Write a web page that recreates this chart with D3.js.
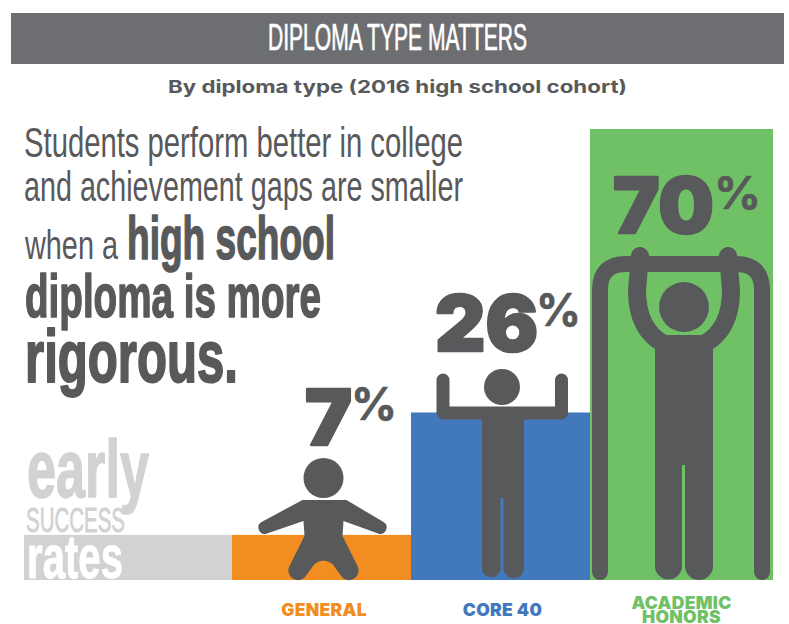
<!DOCTYPE html>
<html>
<head>
<meta charset="utf-8">
<title>Diploma type matters</title>
<script src="https://cdn.jsdelivr.net/npm/d3@7/dist/d3.min.js"></script>
<style>
  html, body { margin: 0; padding: 0; background: #fff; }
  svg { display: block; }
</style>
</head>
<body>
<svg id="chart" width="789" height="624"></svg>
<script>
// Early success rates by diploma type
const categories = ["General", "Core 40", "Academic Honors"];
const rates = [7, 26, 70];
const axisLabels = [["GENERAL"], ["CORE 40"], ["ACADEMIC", "HONORS"]];
const barColors = ["#f28d22", "#4278bc", "#70c166"];

const INK = "#58595b";
const PALE = "#d1d2d4";
const NARROW = "'Liberation Sans Narrow', 'Liberation Sans', sans-serif";
const HEAVY = "Inter, 'DejaVu Sans', sans-serif";

const svg = d3.select("#chart");

// Bars are slightly uneven in width, so the edges come from ordinal scales
const xLeft = d3.scaleOrdinal(categories, [232, 411, 590]);
const xRight = d3.scaleOrdinal(categories, [411, 590, 773]);
const xMid = d3.scaleOrdinal(categories, [323.5, 502, 681]);
const y = d3.scaleLinear().domain([0, 70]).range([580, 129]);

// Text set to a fixed measure: the face is stretched or squeezed to the given width
function fitted(parent, o) {
  return parent.append("text")
    .attr("x", o.x).attr("y", o.y)
    .attr("textLength", o.w).attr("lengthAdjust", "spacingAndGlyphs")
    .attr("font-family", o.family || NARROW)
    .attr("font-size", o.size)
    .attr("font-weight", o.weight || 400)
    .attr("fill", o.fill || INK)
    .attr("stroke", o.stroke ? (o.fill || INK) : null)
    .attr("stroke-width", o.stroke || null)
    .attr("stroke-linejoin", "round")
    .text(o.text);
}

// Header band
svg.append("rect").attr("x", 11).attr("y", 13).attr("width", 773).attr("height", 51).attr("fill", "#6d6e71");
fitted(svg, { text: "DIPLOMA TYPE MATTERS", x: 268, y: 50, w: 259, size: 37, fill: "#fff", stroke: 0.7 });
fitted(svg, { text: "By diploma type (2016 high school cohort)", x: 168, y: 93, w: 459, size: 17.5, family: HEAVY, weight: 700 });

// Lead-in copy
const copy = [
  { text: "Students perform better in college", x: 24, y: 157, w: 439, size: 42 },
  { text: "and achievement gaps are smaller", x: 24, y: 201, w: 439, size: 42 },
  { text: "when a", x: 25, y: 259, w: 93, size: 41 },
  { text: "high school", x: 127, y: 259, w: 208, size: 61, weight: 700, stroke: 1.6 },
  { text: "diploma is more", x: 25, y: 317, w: 296, size: 61, weight: 700, stroke: 1.6 },
  { text: "rigorous.", x: 25, y: 382, w: 213, size: 74, weight: 700, stroke: 2 }
];
copy.forEach(d => fitted(svg, d));

// Grey lead bar with the "early success rates" wordmark
svg.append("rect")
  .attr("x", 24).attr("y", y(rates[0]))
  .attr("width", xLeft(categories[0]) - 24).attr("height", y(0) - y(rates[0]))
  .attr("fill", PALE);
fitted(svg, { text: "early", x: 27, y: 497, w: 122, size: 82, weight: 700, fill: PALE, stroke: 1.5 });
fitted(svg, { text: "SUCCESS", x: 26, y: 532, w: 99, size: 35, fill: PALE, stroke: 0.8 });
fitted(svg, { text: "rates", x: 27, y: 578, w: 96, size: 62, weight: 700, fill: "#fff", stroke: 1 });

// Bars
svg.append("g").selectAll("rect")
  .data(categories)
  .join("rect")
  .attr("x", d => xLeft(d))
  .attr("y", (d, i) => y(rates[i]))
  .attr("width", d => xRight(d) - xLeft(d))
  .attr("height", (d, i) => y(0) - y(rates[i]))
  .attr("fill", (d, i) => barColors[i]);

// Pictograms, each drawn around its bar's centre line with the ground at 0
const figures = svg.append("g").attr("fill", INK);

// Seated figure on the General bar
const seated = figures.append("g").attr("transform", `translate(${xMid(categories[0])},${y(0)})`);
seated.append("circle").attr("cx", 0).attr("cy", -102).attr("r", 20);
seated.append("path").attr("d",
  "M-21,-80 L23,-80 L60,-58 A6.5,6.5 0 0 1 56,-46 L20,-59 L19,-44 L34,-14 " +
  "A9.5,9.5 0 0 1 17,-5 L9,-16 Q0,-23 -9,-16 L-17,-5 A9.5,9.5 0 0 1 -34,-14 " +
  "L-19,-44 L-20,-59 L-58,-46 A6.5,6.5 0 0 1 -62,-58 Z");

// Arms-raised figure on the Core 40 bar
const raised = figures.append("g").attr("transform", `translate(${xMid(categories[1])},${y(0)})`);
raised.append("circle").attr("cx", 0).attr("cy", -193).attr("r", 18);
raised.append("path")
  .attr("fill", "none").attr("stroke", INK).attr("stroke-width", 13)
  .attr("stroke-linecap", "round").attr("stroke-linejoin", "round")
  .attr("d", "M-59,-200 L-59,-167 L59.5,-167 L59.5,-200");
raised.append("path").attr("d",
  "M-20,-165 L22,-165 L22,-10 A10.5,10.5 0 0 1 1.5,-10 L1.5,-82 L-1.5,-82 L-1.5,-10 A9.5,9.5 0 0 1 -20,-10 Z");

// Figure hanging from the bar on the Academic Honors column
const hanging = figures.append("g").attr("transform", `translate(${xMid(categories[2])},${y(0)})`);
hanging.append("path")
  .attr("fill", "none").attr("stroke", INK).attr("stroke-width", 16)
  .attr("stroke-linecap", "round").attr("stroke-linejoin", "round")
  .attr("d", "M-81,-8 L-81,-290 Q-81,-316 -55,-316 L55,-316 Q81,-316 81,-290 L81,-8");
hanging.append("circle").attr("cx", 3).attr("cy", -273).attr("r", 25);
hanging.append("path")
  .attr("fill", "none").attr("stroke", INK).attr("stroke-width", 18)
  .attr("stroke-linecap", "round").attr("stroke-linejoin", "round")
  .attr("d", "M-41,-324 L-44,-290 C-44,-262 -34,-245 -17,-236 L23,-236 C40,-245 50,-262 50,-290 L47,-324");
hanging.append("path").attr("d",
  "M-26,-245 L32,-245 L32,-14 A14,14 0 0 1 4,-14 L4,-115 L1,-115 L1,-14 A13.5,13.5 0 0 1 -26,-14 Z");

// Value labels: the figure and a smaller raised percent sign
const valueLabels = svg.append("g");
const numberFits = [
  { x: 305, y: 445, w: 47, px: 351, py: 420, pw: 46 },
  { x: 435, y: 351, w: 103, px: 536, py: 326, pw: 45 },
  { x: 613, y: 233, w: 101, px: 714, py: 209, pw: 47 }
];
rates.forEach((v, i) => {
  const f = numberFits[i];
  fitted(valueLabels, { text: String(v), x: f.x, y: f.y, w: f.w, size: 77, family: HEAVY, weight: 900, stroke: 2.4 });
  fitted(valueLabels, { text: "%", x: f.px, y: f.py, w: f.pw, size: 45, family: HEAVY, weight: 700, stroke: 0.6 });
});

// Category axis under the bars
const axis = svg.append("g")
  .attr("transform", `translate(0,${y(0)})`)
  .call(d3.axisBottom(xMid).tickSize(0));
axis.select(".domain").remove();
axis.selectAll(".tick text").each(function (d) {
  const i = categories.indexOf(d);
  const lines = axisLabels[i];
  const t = d3.select(this)
    .text(null)
    .attr("y", null).attr("dy", null)
    .attr("text-anchor", "middle")
    .attr("font-family", HEAVY)
    .attr("font-weight", 900)
    .attr("font-size", 17.5)
    .attr("letter-spacing", 0.3)
    .attr("fill", barColors[i]);
  const first = lines.length > 1 ? 29 : 36;
  lines.forEach((line, k) => {
    t.append("tspan").attr("x", 0).attr("y", first + k * 14).text(line);
  });
});
</script>
</body>
</html>
